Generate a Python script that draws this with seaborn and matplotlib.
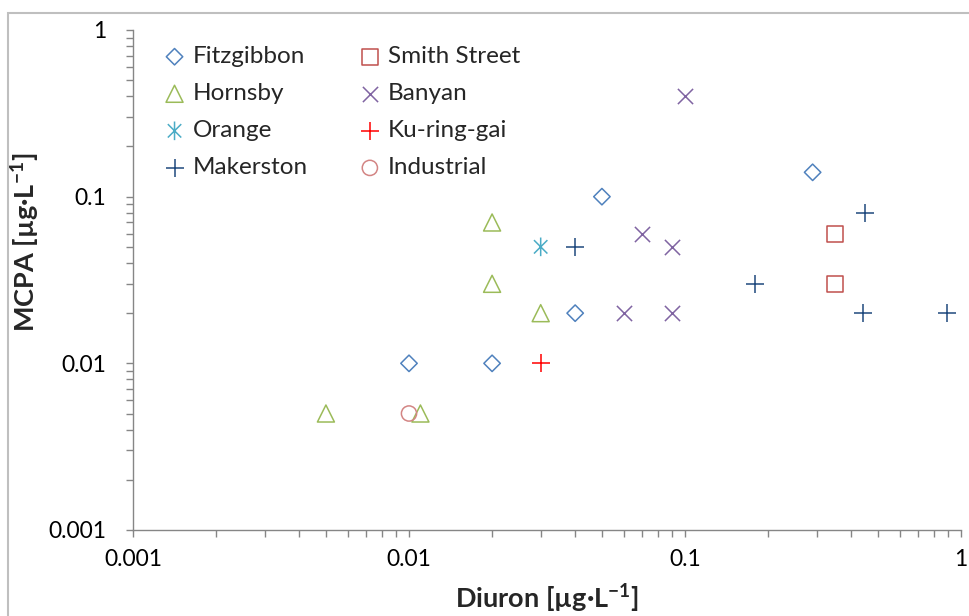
import numpy as np
import pandas as pd
import matplotlib
matplotlib.use("Agg")
import matplotlib.pyplot as plt
from matplotlib.path import Path
from matplotlib.patches import Rectangle
from matplotlib.ticker import LogLocator, NullFormatter, FixedLocator, FixedFormatter
import seaborn as sns

# Diuron vs MCPA concentrations by catchment (µg/L)
sites = ["Fitzgibbon", "Hornsby", "Orange", "Makerston",
         "Smith Street", "Banyan", "Ku-ring-gai", "Industrial"]

fitzgibbon_diuron = [0.01, 0.02, 0.04, 0.05, 0.29]
fitzgibbon_mcpa = [0.01, 0.01, 0.02, 0.1, 0.14]

hornsby_diuron = [0.005, 0.011, 0.02, 0.02, 0.03]
hornsby_mcpa = [0.005, 0.005, 0.07, 0.03, 0.02]

orange_diuron = [0.03]
orange_mcpa = [0.05]

makerston_diuron = [0.04, 0.18, 0.45, 0.44, 0.89]
makerston_mcpa = [0.05, 0.03, 0.08, 0.02, 0.02]

smith_diuron = [0.35, 0.35]
smith_mcpa = [0.06, 0.03]

banyan_diuron = [0.1, 0.07, 0.09, 0.06, 0.09]
banyan_mcpa = [0.4, 0.06, 0.05, 0.02, 0.02]

kuringgai_diuron = [0.03]
kuringgai_mcpa = [0.01]

industrial_diuron = [0.01]
industrial_mcpa = [0.005]

diuron = [fitzgibbon_diuron, hornsby_diuron, orange_diuron, makerston_diuron,
          smith_diuron, banyan_diuron, kuringgai_diuron, industrial_diuron]
mcpa = [fitzgibbon_mcpa, hornsby_mcpa, orange_mcpa, makerston_mcpa,
        smith_mcpa, banyan_mcpa, kuringgai_mcpa, industrial_mcpa]

frames = [pd.DataFrame({"site": s, "diuron": d, "mcpa": m})
          for s, d, m in zip(sites, diuron, mcpa)]
df = pd.concat(frames, ignore_index=True)

# Six-armed asterisk: vertical stroke plus a diagonal cross
star = Path([(0, -1), (0, 1), (-0.72, -0.72), (0.72, 0.72), (-0.72, 0.72), (0.72, -0.72)],
            [Path.MOVETO, Path.LINETO, Path.MOVETO, Path.LINETO, Path.MOVETO, Path.LINETO])

# open=True: outline-only marker; open=False: stroke marker coloured directly
styles = {
    "Fitzgibbon":   dict(marker="D", color="#4F81BD", s=70, open=True),
    "Hornsby":      dict(marker="^", color="#9BBB59", s=150, open=True),
    "Orange":       dict(marker=star, color="#4BACC6", s=180, open=True),
    "Makerston":    dict(marker="+", color="#1F497D", s=150, open=False),
    "Smith Street": dict(marker="s", color="#C0504D", s=130, open=True),
    "Banyan":       dict(marker="x", color="#8064A2", s=120, open=False),
    "Ku-ring-gai":  dict(marker="+", color="#FF0000", s=170, open=False),
    "Industrial":   dict(marker="o", color="#D38584", s=120, open=True),
}

sns.set_theme(style="white")
plt.rcParams["font.family"] = ["Lato", "DejaVu Sans"]
plt.rcParams["mathtext.fontset"] = "custom"
plt.rcParams["mathtext.rm"] = "Lato"
plt.rcParams["mathtext.bf"] = "Lato:bold"

fig = plt.figure(figsize=(9.69, 6.16), dpi=100)
ax = fig.add_axes([133 / 969, 86 / 616, 828 / 969, 500 / 616])

for site in sites:
    st = styles[site]
    sub = df[df["site"] == site]
    if st["open"]:
        colour_kws = dict(facecolor="none", edgecolor=st["color"])
    else:
        colour_kws = dict(color=st["color"])
    sns.scatterplot(data=sub, x="diuron", y="mcpa", ax=ax, label=site, legend=False,
                    marker=st["marker"], s=st["s"], linewidth=1.1, **colour_kws)

ax.set_xscale("log")
ax.set_yscale("log")
ax.set_xlim(0.001, 1)
ax.set_ylim(0.001, 1)

axis_grey = "#868686"
for side in ["top", "right"]:
    ax.spines[side].set_visible(False)
for side in ["left", "bottom"]:
    ax.spines[side].set_color(axis_grey)
    ax.spines[side].set_linewidth(1.0)

decades = [0.001, 0.01, 0.1, 1]
decade_labels = ["0.001", "0.01", "0.1", "1"]
ax.xaxis.set_major_locator(FixedLocator(decades))
ax.xaxis.set_major_formatter(FixedFormatter(decade_labels))
ax.yaxis.set_major_locator(FixedLocator(decades))
ax.yaxis.set_major_formatter(FixedFormatter(decade_labels))
for axis in (ax.xaxis, ax.yaxis):
    axis.set_minor_locator(LogLocator(base=10, subs=np.arange(2, 10)))
    axis.set_minor_formatter(NullFormatter())
ax.tick_params(which="both", direction="out", color=axis_grey, width=1.0,
               length=5, labelsize=16.5, labelcolor="black", left=True, bottom=True)
ax.tick_params(axis="x", which="major", pad=9)
ax.tick_params(axis="y", which="major", pad=14)

ax.set_xlabel(r"Diuron [µg·L$^{\mathbf{-1}}$]", fontsize=19.5, fontweight="bold", labelpad=8)
ax.set_ylabel(r"MCPA [µg·L$^{\mathbf{-1}}$]", fontsize=19.5, fontweight="bold")
ax.yaxis.set_label_coords(-0.11, 0.576)

ax.legend(loc="upper left", bbox_to_anchor=(0.012, 0.997), ncol=2, frameon=False,
          fontsize=17.5, handletextpad=0.05, columnspacing=1.85, labelspacing=0.66,
          borderaxespad=0.2, handlelength=1.4)

# Chart-area border
fig.patches.append(Rectangle((8 / 969, -0.1), 1.2, (616 - 13) / 616 + 0.1,
                             transform=fig.transFigure, fill=False,
                             edgecolor="#BFBFBF", linewidth=1.5, zorder=-1))

fig.savefig("out.png", dpi=100)
